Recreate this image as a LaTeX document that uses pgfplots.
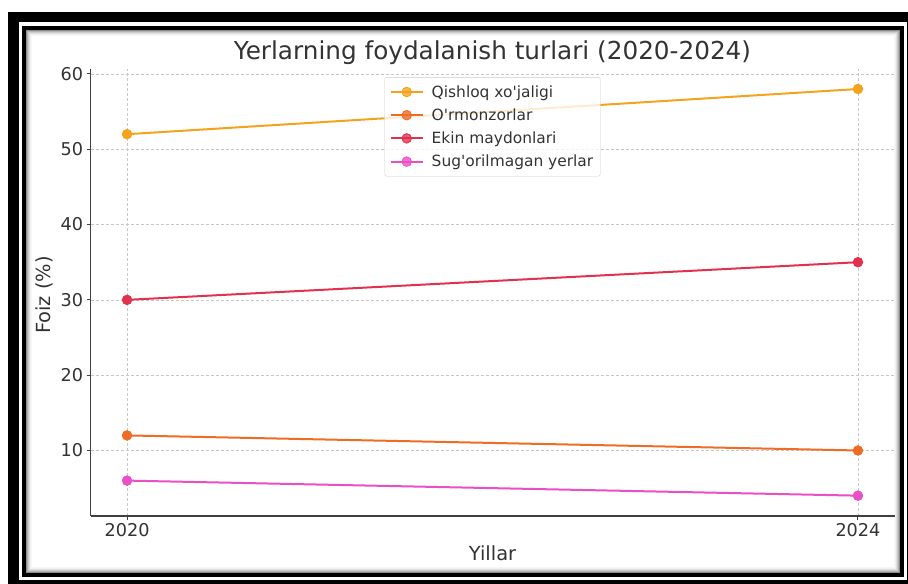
\documentclass[border=0pt]{standalone}
\usepackage{fontspec}
\setmainfont{DejaVu Sans}[Ligatures=TeXOff]
\usepackage{pgfplots}
\pgfplotsset{compat=1.18}

\definecolor{cQ}{HTML}{F5A31D}
\definecolor{cO}{HTML}{EF6C27}
\definecolor{cE}{HTML}{E2314F}
\definecolor{cS}{HTML}{EB4FC6}
\definecolor{txt}{HTML}{333333}

\begin{document}
\begin{tikzpicture}[x=1bp,y=1bp]
\useasboundingbox (0,0) rectangle (908,584);
% picture frame: thick black border, white gap, thin black line, inner shadow
\fill[white] (0,0) rectangle (908,584);
\fill[black] (8,0) rectangle (908,572);
\fill[white] (18.5,4) rectangle (907,562);
\fill[black] (22,7) rectangle (904,558);
\fill[white] (26,11) rectangle (900,554);
\foreach \i/\o in {0/0.45,1/0.3,2/0.2,3/0.12,4/0.06,5/0.03} {
  \draw[black, opacity=\o, line width=1bp] (26.5+\i, 11.5+\i) rectangle (899.5-\i, 553.5-\i);
}

\begin{axis}[
  at={(90.5bp,68bp)}, anchor=south west,
  scale only axis, width=804bp, height=447.3bp,
  xmin=2019.8, xmax=2024.2, ymin=1.3, ymax=60.7,
  xtick={2020,2024}, ytick={10,20,30,40,50,60},
  axis x line*=bottom, axis y line*=left,
  axis line style={-, black!75, line width=1.2bp},
  tick style={black!75, line width=1bp},
  tick align=outside, major tick length=4bp,
  grid=major,
  major grid style={black!22, line width=0.6bp, dash pattern=on 3bp off 2bp},
  /pgf/number format/assume math mode=true,
  xticklabel style={font=\fontsize{17.7}{20}\selectfont, text=txt, /pgf/number format/1000 sep={}},
  yticklabel style={font=\fontsize{17.7}{20}\selectfont, text=txt},
  legend style={at={(0.5,0.981)}, anchor=north,
    font=\fontsize{15.5}{18}\selectfont, text=txt,
    draw=black!20, rounded corners=2bp, fill=white, fill opacity=0.8, text opacity=1,
    row sep=6bp, inner xsep=5bp, inner ysep=6bp,
    /tikz/every odd column/.append style={column sep=6bp}},
  legend cell align=left,
  legend image code/.code={\draw[mark repeat=2,mark phase=2] plot coordinates {(0bp,0bp)(16bp,0bp)(32bp,0bp)};},
  every axis plot/.append style={line width=2bp, mark=*, mark size=4.8bp, mark options={solid, line width=0.8bp}},
]
\addplot[color=cQ] coordinates {(2020,52) (2024,58)};
\addlegendentry{Qishloq xo'jaligi}
\addplot[color=cO] coordinates {(2020,12) (2024,10)};
\addlegendentry{O'rmonzorlar}
\addplot[color=cE] coordinates {(2020,30) (2024,35)};
\addlegendentry{Ekin maydonlari}
\addplot[color=cS] coordinates {(2020,6) (2024,4)};
\addlegendentry{Sug'orilmagan yerlar}
\end{axis}

\node[anchor=base, text=txt, font=\fontsize{24.8}{28}\selectfont] at (492.5,524.5) {Yerlarning foydalanish turlari (2020-2024)};
\node[anchor=base, text=txt, font=\fontsize{19.5}{22}\selectfont] at (492.5,23.5) {Yillar};
\node[anchor=base, rotate=90, text=txt, font=\fontsize{19.5}{22}\selectfont] at (50.7,289) {Foiz (\%)};
\end{tikzpicture}
\end{document}
